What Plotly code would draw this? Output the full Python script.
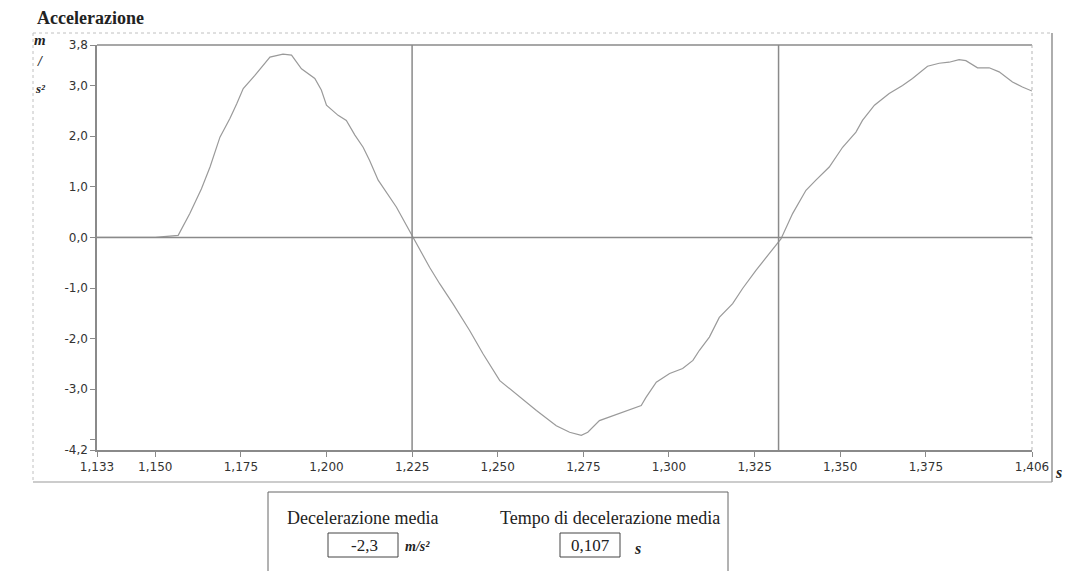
import plotly.graph_objects as go

# ---- data ----
time_s = [1.133, 1.150, 1.1567, 1.1601, 1.1635, 1.1660, 1.1689, 1.1718, 1.1738, 1.1757,
          1.1791, 1.1835, 1.1873, 1.1898, 1.1927, 1.1966, 1.1985, 1.2000, 1.2034, 1.2058,
          1.2083, 1.2107, 1.2126, 1.2151, 1.2204, 1.2253, 1.2301, 1.2331, 1.2369, 1.2418,
          1.2457, 1.2506, 1.2564, 1.2613, 1.2671, 1.2710, 1.2744, 1.2763, 1.2797, 1.2836,
          1.2885, 1.2919, 1.2933, 1.2963, 1.3002, 1.3040, 1.3070, 1.3089, 1.3118, 1.3147,
          1.3186, 1.3215, 1.3254, 1.3293, 1.3327, 1.3361, 1.3400, 1.3429, 1.3468, 1.3507,
          1.3546, 1.3565, 1.3600, 1.3643, 1.3682, 1.3711, 1.3755, 1.3789, 1.3818, 1.3847,
          1.3867, 1.3901, 1.3935, 1.3964, 1.4003, 1.4032, 1.4060]
accel = [0.0, 0.0, 0.04, 0.47, 0.96, 1.39, 1.98, 2.35, 2.64, 2.94,
         3.20, 3.56, 3.62, 3.60, 3.33, 3.14, 2.91, 2.61, 2.41, 2.31,
         2.02, 1.78, 1.52, 1.13, 0.60, 0.0, -0.59, -0.92, -1.31, -1.84,
         -2.30, -2.83, -3.16, -3.42, -3.72, -3.85, -3.91, -3.85, -3.62, -3.52,
         -3.41, -3.32, -3.16, -2.86, -2.69, -2.59, -2.43, -2.23, -1.97, -1.58,
         -1.31, -1.01, -0.65, -0.32, -0.03, 0.47, 0.93, 1.13, 1.39, 1.78,
         2.08, 2.31, 2.61, 2.84, 3.00, 3.14, 3.38, 3.44, 3.46, 3.51,
         3.49, 3.35, 3.35, 3.27, 3.07, 2.97, 2.89]

cursor_times = [1.225, 1.332]

x_tickvals = [1.133, 1.150, 1.175, 1.200, 1.225, 1.250, 1.275, 1.300, 1.325, 1.350, 1.375, 1.406]
x_ticktext = ["1,133", "1,150", "1,175", "1,200", "1,225", "1,250", "1,275", "1,300",
              "1,325", "1,350", "1,375", "1,406"]
y_tickvals = [3.8, 3.0, 2.0, 1.0, 0.0, -1.0, -2.0, -3.0, -4.0, -4.2]
y_ticktext = ["3,8", "3,0", "2,0", "1,0", "0,0", "-1,0", "-2,0", "-3,0", "", "-4,2"]

title_text = "Accelerazione"
y_unit = ["m", "/", "s²"]
x_unit = "s"
label_decel = "Decelerazione media"
label_time = "Tempo di decelerazione media"
value_decel = "-2,3"
value_time = "0,107"
unit_decel = "m/s²"
unit_time = "s"

# ---- layout geometry (pixels) ----
W, H = 1065, 571
L, R, T, B = 97, 1032, 45, 450


def px(xp):
    return (xp - L) / (R - L)


def py(yp):
    return (B - yp) / (B - T)


GRAY = "#8a8a8a"
TXT = "#333333"
SERIF = "Liberation Serif, Times New Roman, serif"

fig = go.Figure()
fig.add_trace(go.Scatter(x=time_s, y=accel, mode="lines",
                         line=dict(color="#9a9a9a", width=1.2), showlegend=False,
                         hoverinfo="skip"))

shapes = []
# zero line
shapes.append(dict(type="line", xref="paper", yref="y", x0=0, x1=1, y0=0, y1=0,
                   line=dict(color=GRAY, width=1.5)))
# cursors
for ct in cursor_times:
    shapes.append(dict(type="line", xref="x", yref="paper", x0=ct, x1=ct, y0=0, y1=1,
                       line=dict(color=GRAY, width=1.5)))
# plot frame (top solid, right dotted)
shapes.append(dict(type="line", xref="paper", yref="paper", x0=0, x1=1, y0=1, y1=1,
                   line=dict(color=GRAY, width=1.5)))
shapes.append(dict(type="line", xref="paper", yref="paper", x0=1, x1=1, y0=0, y1=1,
                   line=dict(color="#b5b5b5", width=1, dash="dot")))
# outer frame
shapes.append(dict(type="line", xref="paper", yref="paper", x0=px(33), x1=px(1052),
                   y0=py(33), y1=py(33), line=dict(color="#c0c0c0", width=1, dash="dot")))
shapes.append(dict(type="line", xref="paper", yref="paper", x0=px(33), x1=px(33),
                   y0=py(33), y1=py(482), line=dict(color="#c0c0c0", width=1, dash="dot")))
shapes.append(dict(type="line", xref="paper", yref="paper", x0=px(1052), x1=px(1052),
                   y0=py(33), y1=py(482), line=dict(color="#777777", width=1.2)))
shapes.append(dict(type="line", xref="paper", yref="paper", x0=px(33), x1=px(1052),
                   y0=py(482), y1=py(482), line=dict(color="#999999", width=1)))
# bottom panel
shapes.append(dict(type="rect", xref="paper", yref="paper", x0=px(268), x1=px(728),
                   y0=py(580), y1=py(492), line=dict(color="#666666", width=1)))
shapes.append(dict(type="rect", xref="paper", yref="paper", x0=px(328), x1=px(398),
                   y0=py(557), y1=py(533), line=dict(color="#444444", width=1)))
shapes.append(dict(type="rect", xref="paper", yref="paper", x0=px(560), x1=px(620),
                   y0=py(557), y1=py(533), line=dict(color="#444444", width=1)))

ann = []


def add_text(text, xp, yp, size, bold=False, italic=False, family=SERIF, color="#222222",
             xanchor="center"):
    t = text
    if bold:
        t = "<b>" + t + "</b>"
    if italic:
        t = "<i>" + t + "</i>"
    ann.append(dict(text=t, xref="paper", yref="paper", x=px(xp), y=py(yp),
                    xanchor=xanchor, yanchor="middle", showarrow=False,
                    font=dict(family=family, size=size, color=color)))


add_text(title_text, 35, 18, 18, bold=True, xanchor="left")
add_text(y_unit[0], 40, 40, 15, bold=True, italic=True)
add_text(y_unit[1], 40, 62, 14, bold=True, italic=True)
add_text(y_unit[2], 40, 88, 13, bold=True, italic=True)
add_text(x_unit, 1058, 473, 16, bold=True, italic=True)
add_text(label_decel, 362, 518, 18)
add_text(label_time, 610, 518, 18)
add_text(value_decel, 364, 545, 17)
add_text(unit_decel, 417, 546, 14, bold=True, italic=True)
add_text(value_time, 590, 545, 17)
add_text(unit_time, 637, 548, 16, bold=True, italic=True)

fig.update_layout(
    width=W, height=H,
    margin=dict(l=L, r=W - R, t=T, b=H - B, pad=0),
    paper_bgcolor="white", plot_bgcolor="white",
    shapes=shapes, annotations=ann, showlegend=False,
    xaxis=dict(range=[1.133, 1.406], tickvals=x_tickvals, ticktext=x_ticktext,
               showgrid=False, zeroline=False, showline=True, linecolor=GRAY, linewidth=1.5,
               ticks="outside", ticklen=5, tickcolor=GRAY,
               tickfont=dict(family="DejaVu Sans", size=12, color=TXT)),
    yaxis=dict(range=[-4.2, 3.8], tickvals=y_tickvals, ticktext=y_ticktext,
               showgrid=False, zeroline=False, showline=True, linecolor=GRAY, linewidth=1.5,
               ticks="outside", ticklen=5, tickcolor=GRAY,
               tickfont=dict(family="DejaVu Sans", size=12, color=TXT)),
)

fig.write_html("out.html")
